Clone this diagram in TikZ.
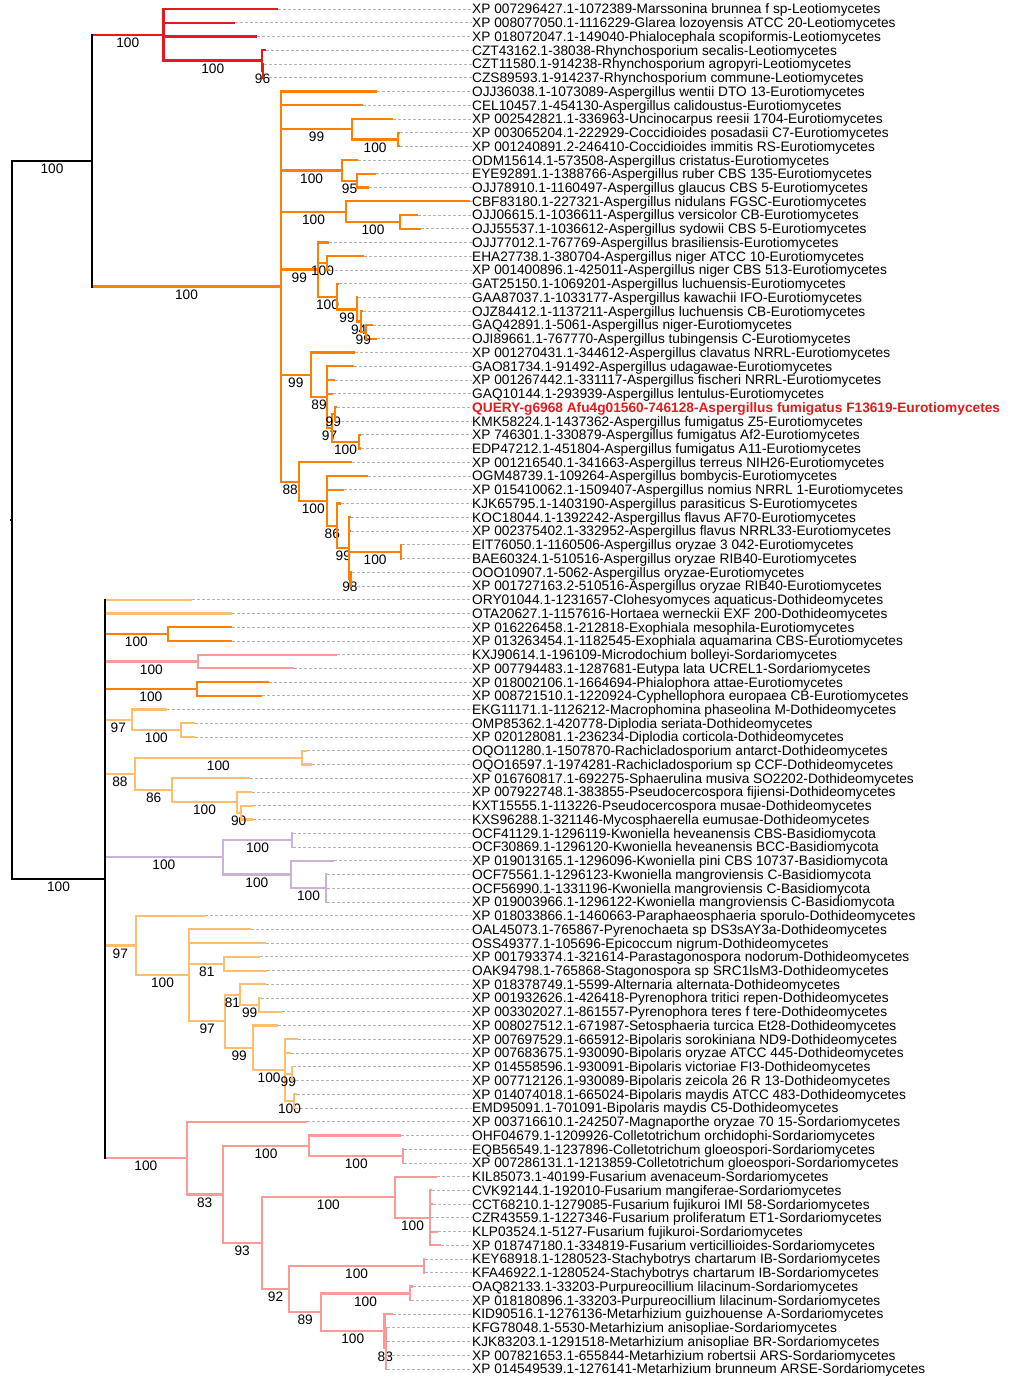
\documentclass[tikz,border=0pt]{standalone}
\usepackage{fontspec}
\setmainfont{Liberation Sans}
\definecolor{leo}{RGB}{228,26,28}
\definecolor{euro}{RGB}{255,127,0}
\definecolor{doth}{RGB}{253,191,111}
\definecolor{sord}{RGB}{251,154,153}
\definecolor{basid}{RGB}{202,178,214}
\newcommand\lbl{\fontsize{13.7}{14}\selectfont}
\newcommand\qlabel{\textcolor{leo}{\bfseries QUERY-g6968 Afu4g01560-746128-Aspergillus fumigatus F13619-Eurotiomycetes}}
\begin{document}
\begin{tikzpicture}[x=1pt, y=-13.737pt,
	br/.style={line width=2.2pt},
	bar/.style={line width=2.2pt, line cap=rect},
	lead/.style={draw=black!30, line width=0.8pt, dash pattern=on 3pt off 2pt},
	bs/.style={below=1pt, inner sep=1pt, text=black, font=\lbl},
	leaf/.style={anchor=base west, inner sep=0pt, yshift=-4.9pt, font=\lbl}]
	\useasboundingbox (0,0.3448) rectangle (1018,100.585);
	
	% internal nodes (x in px, y in leaf rows)
	\coordinate (rt) at (12,38.1816); \coordinate (A) at (92,12.0391); \coordinate (B) at (105,64.3242);
	\coordinate (L) at (163.5,2.875); \coordinate (R) at (262,4.75); \coordinate (S) at (263,5.5);
	\coordinate (E) at (281,21.2031);
	\coordinate (E1) at (352,9.75); \coordinate (E1a) at (398.3,10.5);
	\coordinate (E2) at (342.3,12.75); \coordinate (E2a) at (356.7,13.5);
	\coordinate (E3) at (346,15.75); \coordinate (E3a) at (400,16.5);
	\coordinate (E4) at (317.7,19.9688); \coordinate (E4a) at (327.3,19.5); \coordinate (E4b) at (337.3,21.9375);
	\coordinate (E4c) at (356.7,22.875); \coordinate (E4d) at (360.7,23.75); \coordinate (E4e) at (366,24.5);
	\coordinate (E5) at (310.7,27.625); \coordinate (E5a) at (327.3,29.25);
	\coordinate (X) at (331.7,31.5); \coordinate (Y) at (335,30.5); \coordinate (Z) at (359.3,32.5);
	\coordinate (E6) at (299.3,35.4063); \coordinate (E6a) at (327.3,36.8125); \coordinate (E6b) at (337.3,38.625);
	\coordinate (E6c) at (349.3,40.25); \coordinate (E6d) at (401,40.5); \coordinate (E6e) at (350.5,42.5);
	\coordinate (B1) at (167.7,46.5); \coordinate (B2) at (197.7,48.5); \coordinate (B3) at (196.7,50.5);
	\coordinate (B4) at (131.7,52.75); \coordinate (B4a) at (181,53.5);
	\coordinate (B5) at (135,56.6875); \coordinate (B5a) at (301.7,55.5); \coordinate (B5b) at (172.3,57.875);
	\coordinate (B5c) at (236.7,58.75); \coordinate (B5d) at (240.7,59.5);
	\coordinate (B6) at (222.7,62.75); \coordinate (B6a) at (292.3,61.5); \coordinate (B6b) at (291,64);
	\coordinate (B6c) at (326,65);
	\coordinate (B7) at (135.7,69.1719); \coordinate (B7a) at (189.3,71.3438); \coordinate (B7b) at (224.3,70.5);
	\coordinate (B7c) at (225,74.6875); \coordinate (B7d) at (240,72.75); \coordinate (B7e) at (259.3,73.5);
	\coordinate (B7f) at (253.3,76.625); \coordinate (B7g) at (285,78.25); \coordinate (B7h) at (291.7,78.5);
	\coordinate (B7i) at (294,80.5);
	\coordinate (B8) at (186.7,84.6484); \coordinate (B8a) at (222.7,87.2969); \coordinate (B8b) at (309.3,83.75);
	\coordinate (B8c) at (403.3,84.5); \coordinate (B8d) at (261.7,90.8438); \coordinate (B8e) at (395,87.5);
	\coordinate (B8f) at (430,89); \coordinate (B8g) at (289.3,94.1875); \coordinate (B8h) at (424,92.5);
	\coordinate (B8i) at (321,95.875); \coordinate (B8j) at (410,94.5); \coordinate (B8k) at (384.5,97.25);
	\coordinate (B8l) at (386,98.5);
	
	% leaves
	\foreach \rw/\tx/\pa/\col/\txt in {
		1/278/L/leo/XP 007296427.1-1072389-Marssonina brunnea f sp-Leotiomycetes,
		2/235/L/leo/XP 008077050.1-1116229-Glarea lozoyensis ATCC 20-Leotiomycetes,
		3/257/L/leo/XP 018072047.1-149040-Phialocephala scopiformis-Leotiomycetes,
		4/265.7/R/leo/CZT43162.1-38038-Rhynchosporium secalis-Leotiomycetes,
		5/264/S/leo/CZT11580.1-914238-Rhynchosporium agropyri-Leotiomycetes,
		6/264/S/leo/CZS89593.1-914237-Rhynchosporium commune-Leotiomycetes,
		7/376.7/E/euro/OJJ36038.1-1073089-Aspergillus wentii DTO 13-Eurotiomycetes,
		8/363/E/euro/CEL10457.1-454130-Aspergillus calidoustus-Eurotiomycetes,
		9/393.3/E1/euro/XP 002542821.1-336963-Uncinocarpus reesii 1704-Eurotiomycetes,
		10/399.5/E1a/euro/XP 003065204.1-222929-Coccidioides posadasii C7-Eurotiomycetes,
		11/399.5/E1a/euro/XP 001240891.2-246410-Coccidioides immitis RS-Eurotiomycetes,
		12/358.3/E2/euro/ODM15614.1-573508-Aspergillus cristatus-Eurotiomycetes,
		13/375.7/E2a/euro/EYE92891.1-1388766-Aspergillus ruber CBS 135-Eurotiomycetes,
		14/369.3/E2a/euro/OJJ78910.1-1160497-Aspergillus glaucus CBS 5-Eurotiomycetes,
		15/470/E3/euro/CBF83180.1-227321-Aspergillus nidulans FGSC-Eurotiomycetes,
		16/417.7/E3a/euro/OJJ06615.1-1036611-Aspergillus versicolor CB-Eurotiomycetes,
		17/420.7/E3a/euro/OJJ55537.1-1036612-Aspergillus sydowii CBS 5-Eurotiomycetes,
		18/329.3/E4/euro/OJJ77012.1-767769-Aspergillus brasiliensis-Eurotiomycetes,
		19/364.3/E4a/euro/EHA27738.1-380704-Aspergillus niger ATCC 10-Eurotiomycetes,
		20/330/E4a/euro/XP 001400896.1-425011-Aspergillus niger CBS 513-Eurotiomycetes,
		21/339.3/E4b/euro/GAT25150.1-1069201-Aspergillus luchuensis-Eurotiomycetes,
		22/358.3/E4c/euro/GAA87037.1-1033177-Aspergillus kawachii IFO-Eurotiomycetes,
		23/363.3/E4d/euro/OJZ84412.1-1137211-Aspergillus luchuensis CB-Eurotiomycetes,
		24/372.7/E4e/euro/GAQ42891.1-5061-Aspergillus niger-Eurotiomycetes,
		25/376.7/E4e/euro/OJI89661.1-767770-Aspergillus tubingensis C-Eurotiomycetes,
		26/355/E5/euro/XP 001270431.1-344612-Aspergillus clavatus NRRL-Eurotiomycetes,
		27/354.3/E5a/euro/GAO81734.1-91492-Aspergillus udagawae-Eurotiomycetes,
		28/335/E5a/euro/XP 001267442.1-331117-Aspergillus fischeri NRRL-Eurotiomycetes,
		29/332.7/E5a/euro/GAQ10144.1-293939-Aspergillus lentulus-Eurotiomycetes,
		30/336.5/Y/euro/\qlabel,
		31/335.5/Y/euro/KMK58224.1-1437362-Aspergillus fumigatus Z5-Eurotiomycetes,
		32/360.7/Z/euro/XP 746301.1-330879-Aspergillus fumigatus Af2-Eurotiomycetes,
		33/360.7/Z/euro/EDP47212.1-451804-Aspergillus fumigatus A11-Eurotiomycetes,
		34/351.7/E6/euro/XP 001216540.1-341663-Aspergillus terreus NIH26-Eurotiomycetes,
		35/368.3/E6a/euro/OGM48739.1-109264-Aspergillus bombycis-Eurotiomycetes,
		36/344/E6a/euro/XP 015410062.1-1509407-Aspergillus nomius NRRL 1-Eurotiomycetes,
		37/340.7/E6b/euro/KJK65795.1-1403190-Aspergillus parasiticus S-Eurotiomycetes,
		38/350.5/E6c/euro/KOC18044.1-1392242-Aspergillus flavus AF70-Eurotiomycetes,
		39/350.5/E6c/euro/XP 002375402.1-332952-Aspergillus flavus NRRL33-Eurotiomycetes,
		40/402/E6d/euro/EIT76050.1-1160506-Aspergillus oryzae 3 042-Eurotiomycetes,
		41/402/E6d/euro/BAE60324.1-510516-Aspergillus oryzae RIB40-Eurotiomycetes,
		42/351.5/E6e/euro/OOO10907.1-5062-Aspergillus oryzae-Eurotiomycetes,
		43/351.5/E6e/euro/XP 001727163.2-510516-Aspergillus oryzae RIB40-Eurotiomycetes,
		44/191.7/B/doth/ORY01044.1-1231657-Clohesyomyces aquaticus-Dothideomycetes,
		45/231.7/B/doth/OTA20627.1-1157616-Hortaea werneckii EXF 200-Dothideomycetes,
		46/231.7/B1/euro/XP 016226458.1-212818-Exophiala mesophila-Eurotiomycetes,
		47/231.7/B1/euro/XP 013263454.1-1182545-Exophiala aquamarina CBS-Eurotiomycetes,
		48/336.7/B2/sord/KXJ90614.1-196109-Microdochium bolleyi-Sordariomycetes,
		49/294.3/B2/sord/XP 007794483.1-1287681-Eutypa lata UCREL1-Sordariomycetes,
		50/269.3/B3/euro/XP 018002106.1-1664694-Phialophora attae-Eurotiomycetes,
		51/261.7/B3/euro/XP 008721510.1-1220924-Cyphellophora europaea CB-Eurotiomycetes,
		52/166.7/B4/doth/EKG11171.1-1126212-Macrophomina phaseolina M-Dothideomycetes,
		53/195/B4a/doth/OMP85362.1-420778-Diplodia seriata-Dothideomycetes,
		54/195/B4a/doth/XP 020128081.1-236234-Diplodia corticola-Dothideomycetes,
		55/307.3/B5a/doth/OQO11280.1-1507870-Rachicladosporium antarct-Dothideomycetes,
		56/311.7/B5a/doth/OQO16597.1-1974281-Rachicladosporium sp CCF-Dothideomycetes,
		57/250/B5b/doth/XP 016760817.1-692275-Sphaerulina musiva SO2202-Dothideomycetes,
		58/251.7/B5c/doth/XP 007922748.1-383855-Pseudocercospora fijiensi-Dothideomycetes,
		59/253.3/B5d/doth/KXT15555.1-113226-Pseudocercospora musae-Dothideomycetes,
		60/253.3/B5d/doth/KXS96288.1-321146-Mycosphaerella eumusae-Dothideomycetes,
		61/293.3/B6a/basid/OCF41129.1-1296119-Kwoniella heveanensis CBS-Basidiomycota,
		62/293.3/B6a/basid/OCF30869.1-1296120-Kwoniella heveanensis BCC-Basidiomycota,
		63/334.3/B6b/basid/XP 019013165.1-1296096-Kwoniella pini CBS 10737-Basidiomycota,
		64/327/B6c/basid/OCF75561.1-1296123-Kwoniella mangroviensis C-Basidiomycota,
		65/327/B6c/basid/OCF56990.1-1331196-Kwoniella mangroviensis C-Basidiomycota,
		66/327/B6c/basid/XP 019003966.1-1296122-Kwoniella mangroviensis C-Basidiomycota,
		67/205/B7/doth/XP 018033866.1-1460663-Paraphaeosphaeria sporulo-Dothideomycetes,
		68/251/B7a/doth/OAL45073.1-765867-Pyrenochaeta sp DS3sAY3a-Dothideomycetes,
		69/266/B7a/doth/OSS49377.1-105696-Epicoccum nigrum-Dothideomycetes,
		70/260/B7b/doth/XP 001793374.1-321614-Parastagonospora nodorum-Dothideomycetes,
		71/266.7/B7b/doth/OAK94798.1-765868-Stagonospora sp SRC1lsM3-Dothideomycetes,
		72/266/B7d/doth/XP 018378749.1-5599-Alternaria alternata-Dothideomycetes,
		73/260.5/B7e/doth/XP 001932626.1-426418-Pyrenophora tritici repen-Dothideomycetes,
		74/281.7/B7e/doth/XP 003302027.1-861557-Pyrenophora teres f tere-Dothideomycetes,
		75/278.3/B7f/doth/XP 008027512.1-671987-Setosphaeria turcica Et28-Dothideomycetes,
		76/297.7/B7g/doth/XP 007697529.1-665912-Bipolaris sorokiniana ND9-Dothideomycetes,
		77/291/B7g/doth/XP 007683675.1-930090-Bipolaris oryzae ATCC 445-Dothideomycetes,
		78/293.3/B7h/doth/XP 014558596.1-930091-Bipolaris victoriae FI3-Dothideomycetes,
		79/296/B7h/doth/XP 007712126.1-930089-Bipolaris zeicola 26 R 13-Dothideomycetes,
		80/296.7/B7i/doth/XP 014074018.1-665024-Bipolaris maydis ATCC 483-Dothideomycetes,
		81/294.5/B7i/doth/EMD95091.1-701091-Bipolaris maydis C5-Dothideomycetes,
		82/307.3/B8/sord/XP 003716610.1-242507-Magnaporthe oryzae 70 15-Sordariomycetes,
		83/400.7/B8b/sord/OHF04679.1-1209926-Colletotrichum orchidophi-Sordariomycetes,
		84/404/B8c/sord/EQB56549.1-1237896-Colletotrichum gloeospori-Sordariomycetes,
		85/404/B8c/sord/XP 007286131.1-1213859-Colletotrichum gloeospori-Sordariomycetes,
		86/436.7/B8e/sord/KIL85073.1-40199-Fusarium avenaceum-Sordariomycetes,
		87/431.7/B8f/sord/CVK92144.1-192010-Fusarium mangiferae-Sordariomycetes,
		88/433.3/B8f/sord/CCT68210.1-1279085-Fusarium fujikuroi IMI 58-Sordariomycetes,
		89/431/B8f/sord/CZR43559.1-1227346-Fusarium proliferatum ET1-Sordariomycetes,
		90/438.3/B8f/sord/KLP03524.1-5127-Fusarium fujikuroi-Sordariomycetes,
		91/440.7/B8f/sord/XP 018747180.1-334819-Fusarium verticillioides-Sordariomycetes,
		92/425/B8h/sord/KEY68918.1-1280523-Stachybotrys chartarum IB-Sordariomycetes,
		93/425/B8h/sord/KFA46922.1-1280524-Stachybotrys chartarum IB-Sordariomycetes,
		94/412.7/B8j/sord/OAQ82133.1-33203-Purpureocillium lilacinum-Sordariomycetes,
		95/411/B8j/sord/XP 018180896.1-33203-Purpureocillium lilacinum-Sordariomycetes,
		96/392.7/B8k/sord/KID90516.1-1276136-Metarhizium guizhouense A-Sordariomycetes,
		97/387/B8l/sord/KFG78048.1-5530-Metarhizium anisopliae-Sordariomycetes,
		98/387/B8l/sord/KJK83203.1-1291518-Metarhizium anisopliae BR-Sordariomycetes,
		99/387/B8l/sord/XP 007821653.1-655844-Metarhizium robertsii ARS-Sordariomycetes,
		100/387/B8l/sord/XP 014549539.1-1276141-Metarhizium brunneum ARSE-Sordariomycetes}{
		\coordinate (l\rw) at (\tx,\rw);
		\node[leaf] (t\rw) at (472,\rw) {\txt};
		\draw[lead] (l\rw) -- (l\rw -| t\rw.west);
		\draw[br,\col] (\pa |- l\rw) -- (l\rw);
	}
	
	% branches with support values, then the bars
	\foreach \nd/\pa/\sv/\fst/\lst/\col in {
		L/A/100/l1/R/leo, R/L/100/l4/S/leo, S/R/96/l5/l6/leo,
		E/A/100/l7/E6/euro, E1/E/99/l9/E1a/euro, E1a/E1/100/l10/l11/euro,
		E2/E/100/l12/E2a/euro, E2a/E2/95/l13/l14/euro,
		E3/E/100/l15/E3a/euro, E3a/E3/100/l16/l17/euro,
		E4/E/99/l18/E4b/euro, E4a/E4/100/l19/l20/euro, E4b/E4/100/l21/E4c/euro,
		E4c/E4b/99/l22/E4d/euro, E4d/E4c/94/l23/E4e/euro, E4e/E4d/99/l24/l25/euro,
		E5/E/99/l26/E5a/euro, E5a/E5/89/l27/X/euro, X/E5a/97/Y/Z/euro,
		Y/X/99/l30/l31/euro, Z/X/100/l32/l33/euro,
		E6/E/88/l34/E6a/euro, E6a/E6/100/l35/E6b/euro, E6b/E6a/86/l37/E6c/euro,
		E6c/E6b/99/l38/E6e/euro, E6d/E6c/100/l40/l41/euro, E6e/E6c/98/l42/l43/euro,
		B1/B/100/l46/l47/euro, B2/B/100/l48/l49/sord, B3/B/100/l50/l51/euro,
		B4/B/97/l52/B4a/doth, B4a/B4/100/l53/l54/doth,
		B5/B/88/B5a/B5b/doth, B5a/B5/100/l55/l56/doth, B5b/B5/86/l57/B5c/doth,
		B5c/B5b/100/l58/B5d/doth, B5d/B5c/90/l59/l60/doth,
		B6/B/100/B6a/B6b/basid, B6a/B6/100/l61/l62/basid, B6b/B6/100/l63/B6c/basid,
		B6c/B6b/100/l64/l66/basid,
		B7/B/97/l67/B7a/doth, B7a/B7/100/l68/B7c/doth, B7b/B7a/81/l70/l71/doth,
		B7c/B7a/97/B7d/B7f/doth, B7d/B7c/81/l72/B7e/doth, B7e/B7d/99/l73/l74/doth,
		B7f/B7c/99/l75/B7g/doth, B7g/B7f/100/l76/B7i/doth, B7h/B7g/99/l78/l79/doth,
		B7i/B7g/100/l80/l81/doth,
		B8/B/100/l82/B8a/sord, B8a/B8/83/B8b/B8d/sord, B8b/B8a/100/l83/B8c/sord,
		B8c/B8b/100/l84/l85/sord, B8d/B8a/93/B8e/B8g/sord, B8e/B8d/100/l86/B8f/sord,
		B8f/B8e/100/l87/l91/sord, B8g/B8d/92/B8h/B8i/sord, B8h/B8g/100/l92/l93/sord,
		B8i/B8g/89/B8j/B8k/sord, B8j/B8i/100/l94/l95/sord, B8k/B8i/100/l96/B8l/sord,
		B8l/B8k/83/l97/l100/sord,
		A/rt/100/L/E/black, B/rt/100/l44/B8/black}{
		\draw[br,\col] (\pa |- \nd) -- node[bs]{\sv} (\nd);
		\draw[bar,\col] (\nd |- \fst) -- (\nd |- \lst);
	}
	\draw[bar] (rt |- A) -- (rt |- B);
	\draw[br] (rt) -- ++(-2,0);
	
\end{tikzpicture}
\end{document}
